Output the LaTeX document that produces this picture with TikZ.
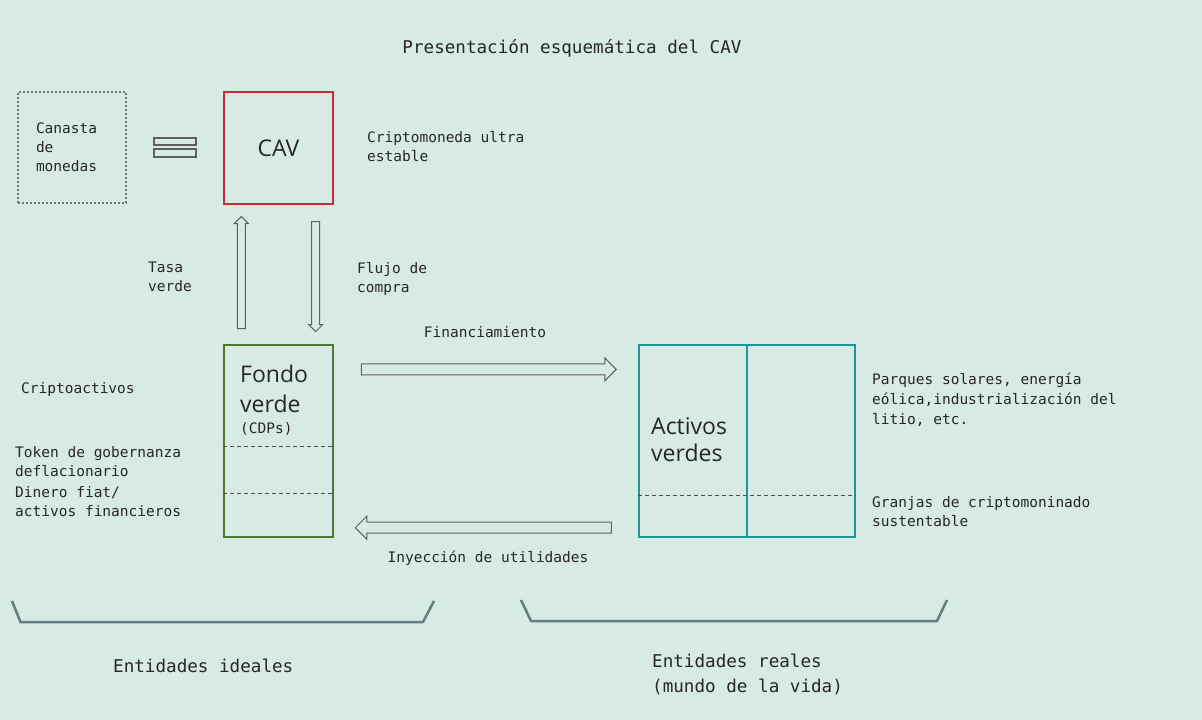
\documentclass[tikz,border=0pt]{standalone}
\usepackage{fontspec}
\setsansfont{Open Sans}
\setmonofont{DejaVu Sans Mono}
\usetikzlibrary{shapes.arrows}
\definecolor{bgmint}{RGB}{216,234,228}
\definecolor{cavred}{RGB}{200,45,50}
\definecolor{fondogreen}{RGB}{78,120,48}
\definecolor{activosteal}{RGB}{30,150,150}
\definecolor{arrowgray}{RGB}{95,95,95}
\definecolor{bracegray}{RGB}{100,125,128}
\begin{document}
\begin{tikzpicture}[x=1pt, y=-1pt, every node/.style={font=\ttfamily\fontsize{14.5}{19}\selectfont, inner sep=0pt, text=black!85}, note/.style={anchor=west, align=left}, caption/.style={anchor=west, align=left, font=\ttfamily\fontsize{17.6}{25}\selectfont}, block/.style={draw, line width=1.4pt}, bigtext/.style={anchor=west, align=left, font=\sffamily\fontsize{23}{30}\selectfont}, part/.style={draw=black!70, line width=0.9pt, dash pattern=on 4pt off 3pt}, eqbar/.style={draw=arrowgray, line width=1.2pt, minimum width=42pt}, fatarrow/.style={single arrow, draw=arrowgray, line width=1pt, single arrow head indent=0pt, minimum width=0pt, sloped, allow upside down, inner sep=5pt, single arrow head extend=6pt}, thinarrow/.style={fatarrow, inner sep=3.5pt, single arrow head extend=3pt}, bracket/.style={draw=bracegray, line width=2.5pt, line join=round}]
\useasboundingbox (0,0) rectangle (1202,720);
\fill[bgmint] (0,0) rectangle (1202,720);
\node[font=\ttfamily\fontsize{17.6}{25}\selectfont] (title) at (572,48) {Presentación esquemática del CAV};
\node[block, draw=black!55, dash pattern=on 2pt off 2pt, line width=1.2pt, minimum width=108pt, minimum height=111pt, text width=72pt, align=left] (canasta) at (72,147.5) {Canasta\\de\\monedas};
\node[eqbar, minimum height=7pt] (eqtop) at (175,141.5) {};
\node[eqbar, minimum height=8pt] (eqbot) at (175,153) {};
\node[block, draw=cavred, minimum width=109pt, minimum height=112pt, font=\sffamily\fontsize{23}{30}\selectfont] (cav) at (278.5,148) {CAV};
\node[note] (ultra) at (367,147) {Criptomoneda ultra\\estable};
\node[note] (tasa) at (148,277) {Tasa\\verde};
\node[note] (flujo) at (357,278.5) {Flujo de\\compra};
\node[block, draw=fondogreen, minimum width=109pt, minimum height=192pt] (fondo) at (278.5,441) {};
\node[bigtext] (fondotxt) at (240,389) {Fondo\\verde};
\node[anchor=west] (cdps) at (240,429) {(CDPs)};
\draw[part] ([yshift=-102pt]fondo.north west) -- ([yshift=-102pt]fondo.north east);
\draw[part] ([yshift=-149pt]fondo.north west) -- ([yshift=-149pt]fondo.north east);
\node[note] (cripto) at (21,389.5) {Criptoactivos};
\node[note] (token) at (15,462) {Token de gobernanza\\deflacionario};
\node[note] (dinero) at (15,502) {Dinero fiat/\\activos financieros};
\node[block, draw=activosteal, minimum width=216pt, minimum height=192pt] (activos) at (747,441) {};
\draw[activosteal, line width=1.4pt] (activos.north) -- (activos.south);
\draw[part] ([yshift=-151pt]activos.north west) -- ([yshift=-151pt]activos.north east);
\node[bigtext, font=\sffamily\fontsize{23}{27}\selectfont] (activostxt) at (651,440) {Activos\\verdes};
\node[note, font=\ttfamily\fontsize{14.5}{20}\selectfont] (parques) at (872,400) {Parques solares, energía\\eólica,industrialización del\\litio, etc.};
\node[note] (granjas) at (872,512) {Granjas de criptomoninado\\sustentable};
\node (finlbl) at (485,331.7) {Financiamiento};
\node (inylbl) at (488,558.5) {Inyección de utilidades};
\path ([yshift=-25pt]fondo.north east) -- node[fatarrow, minimum height=255pt] (finarrow) {} ([yshift=-25pt]activos.north west);
\path ([yshift=10pt]activos.south west) -- node[fatarrow, minimum height=256pt] (inyarrow) {} ([yshift=10pt]fondo.south east);
\path ([xshift=18pt]fondo.north west) -- node[thinarrow, minimum height=112pt] (tasaarrow) {} ([xshift=18pt]cav.south west);
\path ([xshift=-18pt]cav.south east) -- node[thinarrow, minimum height=110pt] (flujoarrow) {} ([xshift=-18pt]fondo.north east);
\draw[bracket] (12,601) -- (20.5,622) -- (423,622) -- (434,601);
\draw[bracket] (521,600) -- (531,621) -- (937,621) -- (947,600);
\node[caption] (ideales) at (113,665.5) {Entidades ideales};
\node[caption] (reales) at (652,674) {Entidades reales\\(mundo de la vida)};
\end{tikzpicture}
\end{document}
